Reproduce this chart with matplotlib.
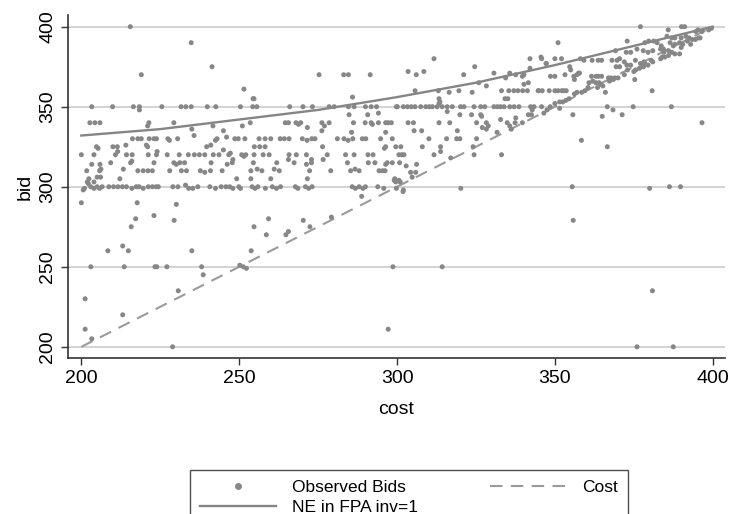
import matplotlib
matplotlib.use("Agg")
import matplotlib.pyplot as plt
from matplotlib.lines import Line2D

plt.rcParams["font.family"] = ["Liberation Sans", "DejaVu Sans"]

# observed bids, grouped by cost band
cost_a = [215.5, 234.8, 241.4, 219.0,
          203.3, 209.9, 216.5, 218.4, 225.5, 231.6, 233.1, 234.8, 239.9, 242.6, 218.4,
          202.7, 204.3, 205.9, 221.4, 221.0, 229.3, 235.0, 235.7, 241.7, 245.0,
          216.2, 217.9, 219.0, 221.5, 223.0, 223.8, 227.4, 227.9, 230.5, 242.5, 243.0, 246.0,
          204.8, 205.3, 210.0, 211.4, 214.1, 239.7, 241.0, 221.0, 245.0, 220.6,
          200.0, 204.0, 210.8, 211.5, 214.3, 216.1, 221.2, 223.8, 224.0, 227.2, 231.0, 233.9,
          235.8, 237.4, 239.1, 241.8, 243.6, 246.7, 247.2,
          203.3, 205.9, 209.3, 215.6, 216.0, 223.0, 229.3, 230.1, 231.2, 232.7, 241.1, 246.2, 247.8,
          201.7, 205.8, 206.2, 213.3, 217.9, 219.6, 221.1, 222.5, 228.0, 231.7, 233.3, 237.7,
          239.1, 240.9, 244.6,
          202.4, 205.0, 206.1, 212.2, 201.9, 202.2, 204.0, 233.0,
          200.6, 201.0, 203.0, 204.0, 205.0, 205.8, 206.6, 208.7, 210.2, 211.6, 213.0, 214.3,
          216.0, 217.4, 218.3, 219.6, 221.2, 222.5, 223.7, 224.4, 229.0, 230.6, 234.0, 235.3,
          236.9, 240.7, 242.5, 244.3, 245.8, 247.0, 248.0,
          200.0, 217.7, 230.1, 217.2, 215.8, 223.0, 229.4, 213.1, 214.9, 208.4, 235.0, 203.0,
          213.6, 223.3, 223.9, 227.1, 238.1, 238.6, 230.7, 201.2, 213.1, 201.2, 203.3, 228.9]
bid_a = [400, 390, 375, 370,
         350, 350, 350, 350, 350, 350, 350, 350, 350, 350, 348,
         340, 340, 340, 340, 338, 340, 336, 332, 338, 335,
         330, 330, 330, 330, 330, 330, 330, 329, 330, 329, 330, 331,
         325, 324, 325, 325, 326, 325, 326, 325, 323, 326,
         320, 320, 320, 322, 320, 320, 320, 320, 322, 320, 320, 320,
         320, 320, 320, 320, 320, 320, 321,
         314, 314, 315, 315, 316, 315, 315, 314, 315, 315, 315, 314, 315,
         310, 310, 311, 311, 310, 310, 310, 310, 310, 310, 310, 310,
         309, 310, 310,
         305, 306, 306, 305, 303, 302, 303, 301,
         298, 299, 300, 299, 300, 299, 300, 300, 300, 300, 300, 300,
         299, 300, 300, 299, 300, 300, 300, 300, 300, 300, 299, 299,
         300, 300, 299, 300, 300, 300, 299,
         290, 290, 289, 280, 275, 282, 279, 263, 260, 260, 260, 250,
         250, 250, 250, 250, 250, 245, 235, 230, 220, 211, 205, 200]

cost_b = [275.3, 283.1, 284.6, 291.5, 251.5, 254.7, 254.4, 285.9,
          250.4, 254.3, 255.6, 266.0, 270.2, 273.2, 278.5, 280.1, 284.6, 286.4, 290.0, 291.8,
          293.5, 299.8,
          253.5, 251.0, 264.6, 265.6, 268.0, 268.8, 269.5, 276.2, 278.5, 286.2, 289.9, 291.8,
          292.2, 294.1, 296.4, 271.6, 277.0, 276.2, 284.8, 285.6, 290.7, 294.1,
          248.6, 249.7, 251.8, 256.3, 258.2, 260.0, 263.0, 264.3, 265.8, 270.0, 271.5, 273.0,
          274.0, 281.1, 283.2, 284.5, 286.0, 289.0, 290.1, 294.8,
          254.8, 256.5, 258.2, 276.4, 296.4, 296.0,
          250.8, 251.5, 252.1, 254.7, 257.6, 259.5, 265.8, 268.1, 271.3, 277.9, 283.7, 286.4,
          290.8, 292.4,
          248.0, 265.6, 272.9, 276.6,
          254.5, 261.9, 267.4, 271.3, 272.9, 284.3, 290.9, 293.0, 296.4,
          261.1, 262.7, 279.0, 285.3, 286.7, 288.0, 294.3, 296.2, 253.7, 255.7, 257.2, 272.3,
          249.2, 253.7, 260.0, 271.6, 299.3,
          249.9, 250.4, 254.1, 255.0, 255.9, 258.3, 260.5, 261.8, 263.1, 267.8, 268.6, 271.0,
          272.0, 273.1, 285.8, 286.8, 288.0, 289.2, 290.0, 293.9, 295.8, 299.8,
          288.8, 254.7, 259.3, 258.6, 264.8, 265.6, 270.3, 272.4, 279.2, 253.8, 250.2, 251.3,
          252.3, 297.2, 298.7]
bid_b = [370, 370, 370, 370, 361, 355, 355, 356,
         350, 350, 350, 350, 350, 350, 350, 350, 350, 350, 350, 350,
         350, 350,
         340, 338, 340, 340, 340, 339, 340, 340, 340, 340, 340, 340,
         339, 340, 340, 337, 338, 335, 345, 334, 345, 346,
         330, 330, 330, 330, 330, 330, 330, 330, 330, 330, 329, 330,
         330, 330, 330, 329, 330, 330, 330, 330,
         325, 325, 325, 325, 325, 324,
         320, 319, 320, 320, 320, 320, 320, 320, 320, 320, 320, 320,
         320, 320,
         317, 317, 317, 317,
         315, 315, 315, 314, 315, 315, 315, 315, 314,
         311, 310, 310, 310, 311, 310, 310, 310, 310, 311, 310, 310,
         305, 305, 305, 305, 305,
         300, 299, 300, 299, 300, 299, 300, 299, 300, 300, 299, 300,
         299, 300, 300, 299, 300, 299, 300, 300, 299, 299,
         294, 275, 280, 270, 270, 272, 279, 275, 281, 260, 251, 250,
         249, 211, 250]

cost_c = [311.7, 303.5, 306.1, 308.5, 324.6, 321.1, 330.7, 334.4, 335.7, 337.6, 339.7, 340.2,
          342.1, 345.8, 347.3, 342.1, 305.7, 313.1, 325.9, 328.3, 340.2, 341.6, 316.5, 319.6,
          323.8, 333.1, 335.4, 337.0, 338.3, 339.8, 341.3, 344.7, 313.3, 313.6, 334.2, 335.1,
          313.3,
          300.1, 302.0, 303.3, 304.5, 305.7, 307.5, 309.1, 310.2, 311.2, 312.7, 314.3, 315.9,
          317.5, 320.1, 321.2, 324.4, 326.5, 327.8, 330.7, 331.8, 332.8, 333.9, 335.7, 337.1,
          338.6, 342.3, 343.4, 315.9, 342.8,
          297.2, 298.2, 303.5, 305.2, 313.3, 316.7, 319.9, 323.6, 326.5, 326.8, 325.2, 328.3,
          328.9, 327.0, 328.3, 332.8, 334.9, 335.7, 337.6, 337.4, 339.7, 341.6, 342.6, 336.2,
          296.4, 298.5, 305.4, 307.8, 310.1, 313.8, 315.7, 319.1, 318.9, 319.9, 325.2, 324.1,
          331.7,
          299.6, 301.2, 308.0, 300.6, 301.5, 302.2, 311.7, 313.8, 324.4, 333.1, 317.0,
          296.9, 298.5, 300.8, 302.9, 306.2, 304.3, 305.9, 295.4, 299.1, 300.6, 304.8,
          302.0, 299.6, 301.0, 320.2, 301.9, 314.3]
bid_c = [380, 372, 370, 372, 375, 370, 371, 368, 371, 370, 369, 370,
         380, 380, 377, 374, 360, 360, 365, 363, 364, 365, 359, 360,
         359, 360, 360, 360, 360, 360, 360, 360, 355, 353, 355, 355,
         352,
         350, 350, 350, 350, 350, 350, 350, 350, 350, 350, 350, 350,
         350, 350, 350, 350, 350, 350, 350, 350, 350, 350, 350, 350,
         350, 350, 350, 347, 348,
         340, 340, 340, 340, 340, 340, 345, 345, 345, 344, 340, 340,
         338, 337, 336, 342, 340, 338, 343, 340, 340, 345, 345, 336,
         334, 330, 335, 335, 330, 325, 330, 335, 330, 330, 330, 325,
         334,
         325, 325, 325, 320, 320, 320, 320, 322, 320, 320, 318,
         315, 315, 315, 313, 314, 309, 309, 310, 304, 304, 306,
         298, 303, 303, 299, 297, 250]

cost_d = [377.1, 385.9, 390.1, 391.1, 395.3, 394.7, 396.6, 398.7, 399.6,
          385.5, 387.0, 388.0, 390.0, 391.5, 392.5, 393.5, 394.5, 395.5,
          386.5, 388.0, 389.5, 390.5, 392.0, 387.5,
          351.0, 372.9, 378.5, 379.7, 381.3, 382.4, 383.7, 384.4,
          369.2, 372.6, 374.0, 376.0, 378.0, 379.5, 381.0, 383.5, 384.5, 386.0,
          345.6, 350.0, 352.1, 358.1, 359.2, 361.8, 363.7, 364.8, 368.1, 369.7, 370.5, 372.0,
          375.5, 378.2, 380.5, 383.5, 384.8, 386.0, 388.0, 389.5,
          347.2, 354.7, 355.0, 369.4, 370.5, 372.8, 374.0, 373.0, 375.6, 376.8, 377.1, 378.5,
          378.0, 379.5,
          348.6, 350.0, 353.2, 356.0, 357.0, 357.8, 357.5, 356.2, 361.6, 363.0, 363.8, 364.8,
          367.0, 367.8, 368.5, 367.3, 369.0, 375.3,
          344.9, 346.0, 348.2, 350.0, 351.0, 352.2, 352.8, 353.6, 356.2, 357.0, 358.5, 359.5,
          360.5, 360.8, 362.0, 363.0, 364.0, 364.5, 365.2, 363.5, 366.0, 380.8,
          346.5, 347.5, 348.5, 350.0, 351.5, 352.5, 353.5, 354.5, 351.5, 345.8,
          370.0, 372.0, 375.0, 378.0, 381.0, 384.0, 387.0, 390.0, 393.0, 396.0,
          355.7, 365.0, 366.6, 368.4, 371.3, 374.8, 386.9, 358.4, 366.6, 396.6,
          355.5, 380.0, 386.3, 389.8, 355.8, 380.9, 376.0, 387.5]
bid_d = [400, 398, 400, 400, 398, 397, 397, 398, 399,
         394, 393, 393, 393, 394, 393, 392, 392, 393,
         390, 389, 390, 389, 391, 388,
         390, 391, 390, 391, 391, 390, 388, 386,
         385, 384, 384, 386, 385, 384, 385, 386, 384, 385,
         381, 380, 380, 380, 379, 379, 379, 379, 379, 379, 380, 378,
         379, 378, 379, 380, 381, 382, 383, 383,
         377, 375, 373, 375, 375, 376, 376, 373, 373, 374, 377, 377,
         375, 376,
         369, 369, 370, 369, 370, 371, 371, 367, 369, 369, 369, 369,
         368, 368, 367, 366, 368, 367,
         360, 360, 360, 360, 360, 360, 360, 360, 358, 359, 359, 360,
         362, 365, 366, 365, 365, 364, 363, 362, 359, 360,
         346, 348, 350, 352, 353, 353, 354, 355, 349, 350,
         368, 370, 372, 375, 378, 381, 384, 387, 389, 393,
         345, 344, 350, 348, 345, 350, 350, 329, 325, 340,
         300, 299, 300, 300, 279, 235, 200, 200]

# Nash equilibrium bid function and the cost line
ne_cost = [200, 225, 250, 275, 300, 325, 350, 375, 400]
ne_bid = [332, 336, 342, 348, 356, 365, 376, 388, 400]
line_cost = [200, 400]

yticks = [200, 250, 300, 350, 400]
xticks = [200, 250, 300, 350, 400]

fig = plt.figure(figsize=(7.32, 5.14), dpi=100)
ax = fig.add_axes([0.093, 0.3035, 0.8975, 0.6673])

for y in yticks:
    ax.axhline(y, color="#c8c8c8", lw=1.1, zorder=0)

dot_col = "#878787"
for c, b in [(cost_a, bid_a), (cost_b, bid_b), (cost_c, bid_c), (cost_d, bid_d)]:
    ax.scatter(c, b, s=13, color=dot_col, edgecolors="none", zorder=3)

ax.plot(line_cost, line_cost, color="#9a9a9a", lw=1.5, dashes=(6, 4), zorder=2)
ax.plot(ne_cost, ne_bid, color="#858585", lw=1.7, zorder=2)

ax.set_xlim(195.8, 403.9)
ax.set_ylim(193, 407.3)
ax.set_xticks(xticks)
ax.set_yticks(yticks)
ax.tick_params(axis="both", direction="out", length=5, width=1, labelsize=14, color="#333333")
ax.tick_params(axis="y", labelrotation=90)
for lab in ax.get_yticklabels():
    lab.set_va("center")

for side in ["top", "right"]:
    ax.spines[side].set_visible(False)
for side in ["left", "bottom"]:
    ax.spines[side].set_color("#333333")
    ax.spines[side].set_linewidth(1.2)

ax.set_xlabel("cost", fontsize=14, labelpad=10)
ax.set_ylabel("bid", fontsize=14, labelpad=4)

handles = [
    Line2D([], [], ls="none", marker="o", ms=5, color=dot_col, mec="none"),
    Line2D([], [], color="#858585", lw=1.7),
    Line2D([], [], color="#9a9a9a", lw=1.5, dashes=(6, 4)),
]
labels = ["Observed Bids", "NE in FPA inv=1", "Cost"]
leg = fig.legend(handles, labels, ncol=2, loc="upper left",
                 bbox_to_anchor=(0.2596, -0.3, 0.598, 0.3856), mode="expand",
                 borderaxespad=0, fontsize=12.5, frameon=True, fancybox=False,
                 edgecolor="#222222", handlelength=4.4, borderpad=0.55,
                 labelspacing=0.32, handletextpad=0.9)
leg.get_frame().set_linewidth(1.0)

fig.savefig("out.png", dpi=100)
